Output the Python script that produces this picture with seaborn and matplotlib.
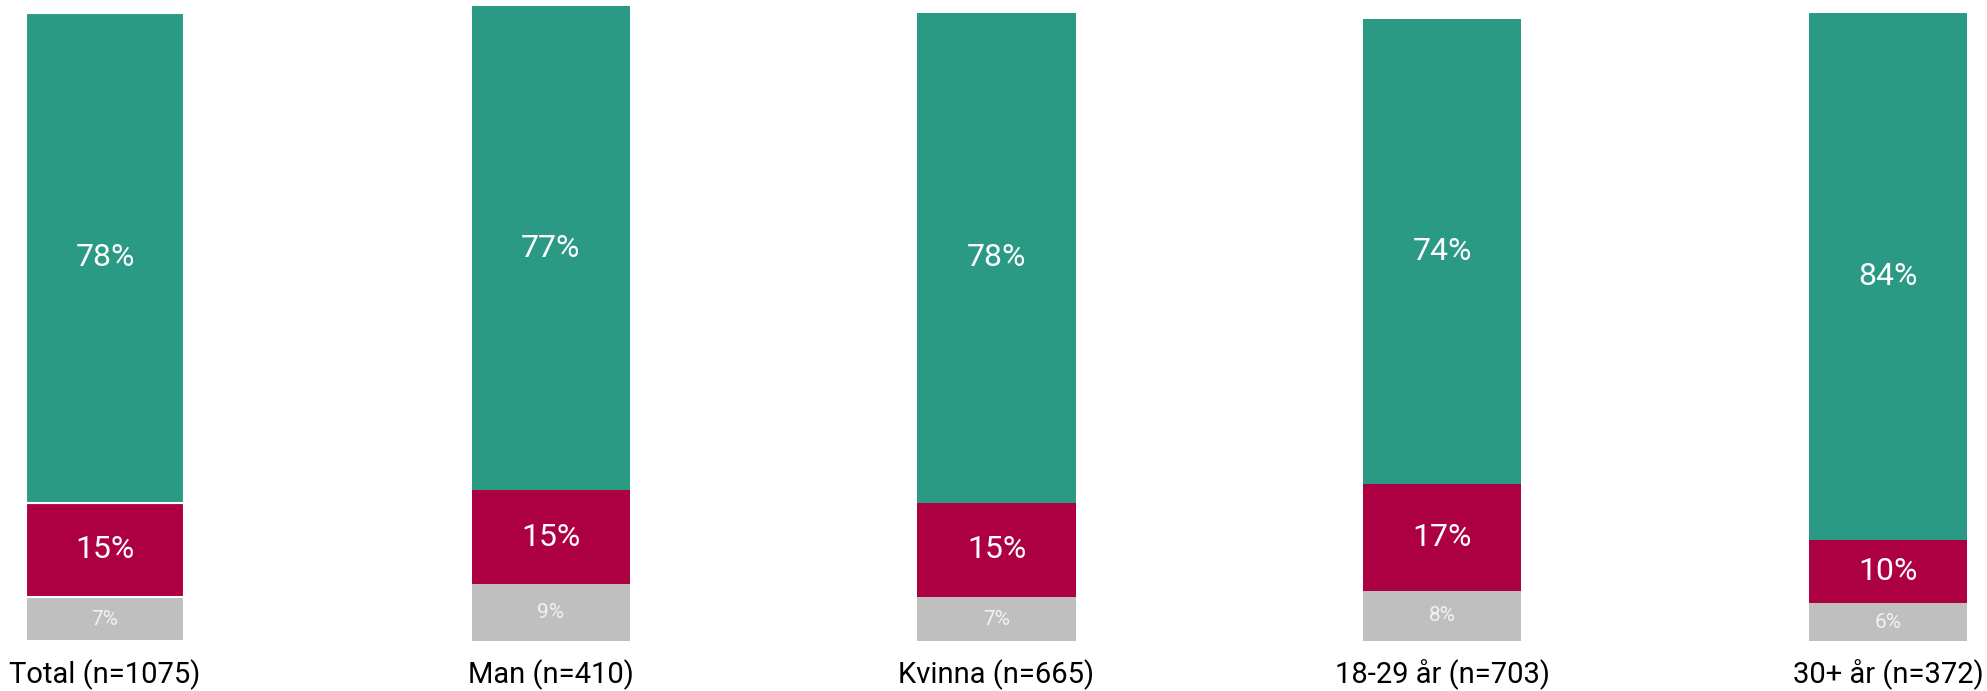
import numpy as np
import pandas as pd
import seaborn as sns
import matplotlib.pyplot as plt

grupper = ['Total (n=1075)', 'Man (n=410)', 'Kvinna (n=665)', '18-29 år (n=703)', '30+ år (n=372)']
gra = [7, 9, 7, 8, 6]
rod = [15, 15, 15, 17, 10]
gron = [78, 77, 78, 74, 84]

farg_gron = '#2A9A84'
farg_rod = '#AD0042'
farg_gra = '#BFBFBF'

sns.set_theme(style='white')
plt.rcParams['font.family'] = ['Roboto', 'DejaVu Sans']

fig = plt.figure(figsize=(19.87, 6.91), dpi=100)
ax = fig.add_axes([26 / 1987, 50 / 691, 1941 / 1987, 641 / 691])

df = pd.DataFrame({'Grupp': grupper, 'Gra': gra, 'Rod': rod, 'Gron': gron})
botten_rod = np.array(gra)
botten_gron = np.array(gra) + np.array(rod)

bredd = 0.355
stil = dict(width=bredd, saturation=1, edgecolor='none', linewidth=0, ax=ax)
sns.barplot(data=df, x='Grupp', y='Gra', color=farg_gra, **stil)
sns.barplot(data=df, x='Grupp', y='Rod', color=farg_rod, bottom=botten_rod, **stil)
sns.barplot(data=df, x='Grupp', y='Gron', color=farg_gron, bottom=botten_gron, **stil)

# vit kant bara på första stapeln, som i originalet
n = len(grupper)
for k in range(3):
    p = ax.patches[k * n]
    p.set_edgecolor('white')
    p.set_linewidth(1.5)

for i in range(n):
    ax.text(i, gra[i] / 2, f'{gra[i]}%', ha='center', va='center', color='#F2F2F2',
            fontsize=15)
    ax.text(i, botten_rod[i] + rod[i] / 2, f'{rod[i]}%', ha='center', va='center', color='white',
            fontsize=23)
    ax.text(i, botten_gron[i] + gron[i] / 2, f'{gron[i]}%', ha='center', va='center', color='white',
            fontsize=23)

ax.set_xlim(-bredd / 2, n - 1 + bredd / 2)
ax.set_ylim(0, 102.0)
ax.set_xlabel('')
ax.set_ylabel('')
ax.set_yticks([])
ax.tick_params(axis='x', length=0, pad=13, labelsize=21, labelcolor='black')
sns.despine(ax=ax, left=True, bottom=True)

plt.savefig('out.png', dpi=100)
